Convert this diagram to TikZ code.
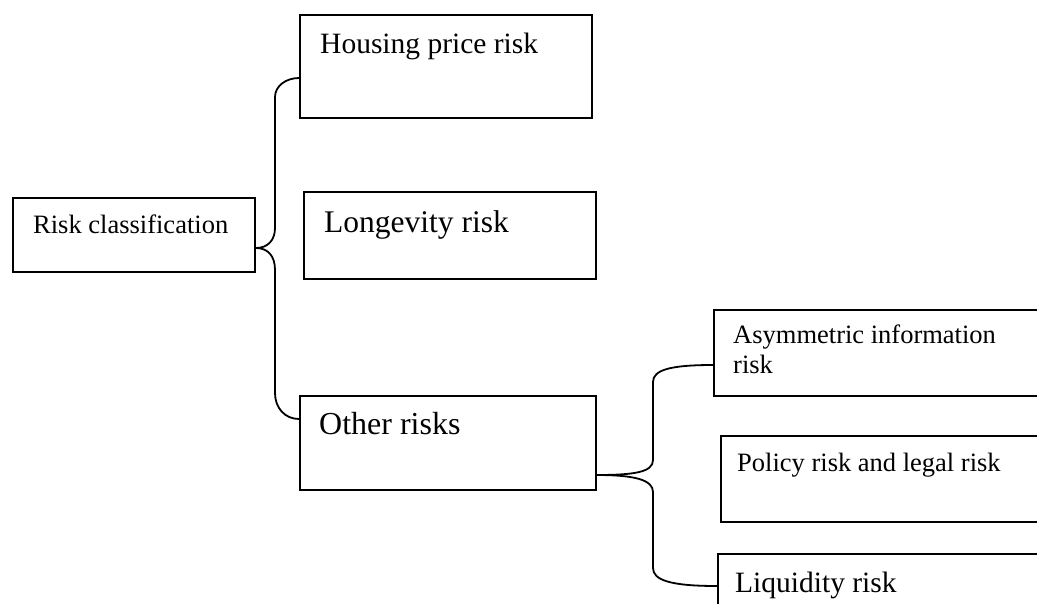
\documentclass[tikz,border=0pt]{standalone}
\usepackage{fontspec}
\setmainfont{Liberation Serif}
\begin{document}
\begin{tikzpicture}[x=1pt,y=-1pt,
    box/.style={draw, line width=1.8pt, rectangle, anchor=north west, inner sep=0pt},
    lbl/.style={anchor=base west, inner sep=0pt, align=left},
    brace/.style={draw, line width=1.8pt}]
                \useasboundingbox (0,0) rectangle (1037,603);
                \clip (0,0) rectangle (1037,603);
                % boxes
                \node[box, minimum width=242pt, minimum height=74pt](rc) at (12,197){};
                \node[box, minimum width=292pt, minimum height=103pt](hp) at (299,14){};
                \node[box, minimum width=292pt, minimum height=87pt](lr) at (303,191){};
                \node[box, minimum width=296pt, minimum height=94pt](or) at (299,395){};
                \node[box, minimum width=360pt, minimum height=86pt](ai) at (713,309){};
                \node[box, minimum width=360pt, minimum height=86pt](pl) at (720,435){};
                \node[box, minimum width=360pt, minimum height=90pt](lq) at (717,553){};
                % texts
                \node[lbl, font=\fontsize{26.5}{32}\selectfont](rctext) at (33,233){Risk classification};
                \node[lbl, font=\fontsize{29.5}{34}\selectfont](hptext) at (320,53){Housing price risk};
                \node[lbl, font=\fontsize{31.5}{36}\selectfont](lrtext) at (324,232){Longevity risk};
                \node[lbl, font=\fontsize{32}{36}\selectfont](ortext) at (319,434){Other risks};
                \node[lbl, font=\fontsize{26.5}{30}\selectfont](aitext) at (733,373){Asymmetric information\\risk};
                \node[lbl, font=\fontsize{26.5}{30}\selectfont](pltext) at (737,471){Policy risk and legal risk};
                \node[lbl, font=\fontsize{29.5}{34}\selectfont](lqtext) at (735,592){Liquidity risk};
                % braces
                \coordinate (rctip) at (rc.east |- 0,248);
                \coordinate (ortip) at (or.east |- 0,475);
                \path[brace] (rctip) .. controls (268,248) and (275,240) .. (275,228)
                    -- (275,97) .. controls (275,86) and (286,78) .. (hp.west |- 0,78);
                \path[brace] (rctip) .. controls (268,248) and (275,256) .. (275,270)
                    -- (275,393) .. controls (275,408) and (285,419) .. (or.west |- 0,419);
                \path[brace] (ortip) .. controls (635,475) and (653,472) .. (653,460)
                    -- (653,382) .. controls (653,370) and (670,365) .. (ai.west |- 0,365);
                \path[brace] (ortip) .. controls (635,475) and (653,480) .. (653,492)
                    -- (653,568) .. controls (653,580) and (670,586) .. (lq.west |- 0,586);
\end{tikzpicture}
\end{document}
